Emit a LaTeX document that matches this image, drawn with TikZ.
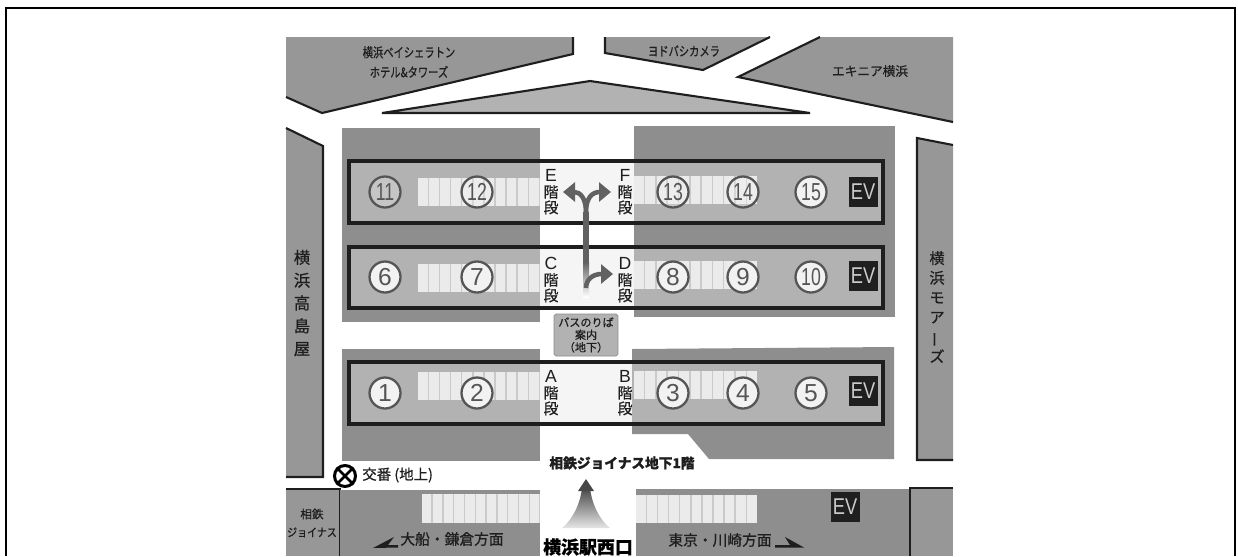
\documentclass[tikz,border=0pt]{standalone}
\usepackage{fontspec}
\setmainfont{Liberation Sans}
\newfontfamily\cjk[FakeBold=0.7]{Noto Sans CJK JP}
\newcommand{\ltr}[1]{{\normalfont\fontsize{10}{8.9}\selectfont #1}}
\usetikzlibrary{arrows.meta}
\definecolor{build}{HTML}{979797}
\definecolor{darkzone}{HTML}{8E8E8E}
\definecolor{band}{HTML}{B2B2B2}
\definecolor{strip}{HTML}{EBEBEB}
\definecolor{gap}{HTML}{CACACA}
\definecolor{ringcol}{HTML}{555555}
\definecolor{inkcol}{HTML}{1E1E1E}
\tikzset{
    edge/.style={draw=inkcol, line width=1.2pt},
    label/.style={font=\cjk\fontsize{8}{9}\selectfont, text=inkcol, inner sep=0pt},
    small/.style={font=\cjk\fontsize{7.5}{11.3}\selectfont, text=inkcol, inner sep=0pt, align=center},
    stair/.style={font=\cjk\fontsize{8.5}{8.9}\selectfont, text=inkcol, inner sep=0pt, align=center},
    tall/.style={font=\cjk\fontsize{#1}{#1}\selectfont, text=inkcol, inner sep=0pt, align=center},
    ring/.style={circle, draw=ringcol, line width=1.3pt, minimum size=.62cm, inner sep=0pt, fill=black!5, text=ringcol, font=\fontsize{14}{14}\selectfont},
    faint/.style={ring, fill opacity=.3, text opacity=1},
    evbox/.style={fill=black!88, text=white!80!black, minimum width=.58cm, minimum height=.6cm, inner sep=0pt, font=\fontsize{13}{13}\selectfont},
    walk/.style={draw=black!62, line width=2.6pt, -{Triangle[width=.38cm,length=.24cm]}},
}
\begin{document}
\begin{tikzpicture}[x=.02cm, y=-.02cm]
    \useasboundingbox (0,0) rectangle (1238,556);
    \draw[line width=1.3pt](6,556)--(6,8)--(1235,8)--(1235,556);
    % buildings
    \fill[build](286,37)--(573,37)--(573,54)--(322,113)--(286,97)--cycle;
    \draw[edge](573,37)--(573,54)--(322,113)--(286,97);
    \fill[build](605,37)--(770,37)--(703,70)--(605,53)--cycle;
    \draw[edge](605,37)--(605,53)--(703,70)--(770,37);
    \fill[build](820,37)--(953,37)--(953,122)--(738,77)--cycle;
    \draw[edge](820,37)--(738,77)--(953,122);
    \draw[edge, fill=band](382,113)--(590,81)--(810,113)--cycle;
    \fill[build](286,128)--(323,146)--(323,477)--(286,477)--cycle;
    \draw[edge](286,128)--(323,146)--(323,477)--(286,477);
    \fill[build](953,145)--(917,138)--(917,460)--(953,460)--cycle;
    \draw[edge](953,145)--(917,138)--(917,460)--(953,460);
    \fill[build](286,489)--(340,489)--(340,556)--(286,556)--cycle;
    \draw[edge](286,489)--(340,489)--(340,556);
    \fill[darkzone](340,490) rectangle (540,556);
    \fill[darkzone](636,489) rectangle (910,556);
    \fill[build](910,489) rectangle (953,556);
    \draw[edge](953,488)--(910,488)--(910,556);
    % platforms
    \fill[darkzone](342,128) rectangle (540,322);
    \fill[darkzone](634,126) rectangle (895,317);
    \fill[darkzone](342,349) rectangle (540,461);
    \fill[darkzone](632,349)--(894,347)--(894,459)--(709,459)--(688,434)--(632,434)--cycle;
    \foreach \ya/\yb/\xr in {161/223/634, 247/308/634, 362/424/632}{
        \fill[black!4](540,\ya) rectangle (\xr,\yb);
        \fill[band](349,\ya) rectangle (540,\yb);
        \fill[band](\xr,\ya) rectangle (883,\yb);
    }
    % ticket gates
    \foreach \yl/\yr in {178/176, 264/261, 372/371}{
        \fill[gap](418,\yl) rectangle (540,\yl+28);
        \fill[gap](634,\yr) rectangle (757,\yr+28);
        \foreach \i in {0,...,10}{
            \fill[strip]({418+\i*11.1},\yl) rectangle +(9.6,28);
            \fill[strip]({634+\i*11.3},\yr) rectangle +(9.8,28);
        }
    }
    \fill[gap](422,494) rectangle (540,523);
    \fill[gap](636,495) rectangle (757,523);
    \foreach \i in {0,...,10}{
        \fill[strip]({422+\i*10.8},494) rectangle +(9.3,29);
        \fill[strip]({636+\i*11.1},495) rectangle +(9.6,28);
    }
    \foreach \ya/\yb in {161/223, 247/308, 362/424}{
        \draw[inkcol, line width=1.8pt](349,\ya) rectangle (883,\yb);
    }
    % exits
    \foreach \name/\x/\y/\txt in {one/385/393/1, two/477/393/2, three/673/393/3, four/743/393/4, five/811/393/5,
        six/385/277/6, seven/477/277/7, eight/673/277/8, nine/743/277/9}{
        \node[ring] (\name) at (\x,\y) {\txt};
    }
    \foreach \name/\x/\y/\txt in {ten/811/277/10, fifteen/811/192/15}{
        \node[ring] (\name) at (\x,\y) {\scalebox{.72}[1]{\txt}};
    }
    \foreach \name/\x/\txt in {eleven/385/11, twelve/477/12, thirteen/673/13, fourteen/743/14}{
        \node[faint] (\name) at (\x,192) {\scalebox{.72}[1]{\txt}};
    }
    \foreach \name/\x/\y in {evF/863/192, evD/863/276, evB/863/391, evG/845/507}{
        \node[evbox] (\name) at (\x,\y) {\scalebox{.8}[1]{EV}};
    }
    % stairs
    \node[stair] (stairE) at (551,192) {\ltr{E}\\階\\段};
    \node[stair] (stairF) at (625,192) {\ltr{F}\\階\\段};
    \node[stair] (stairC) at (551,280) {\ltr{C}\\階\\段};
    \node[stair] (stairD) at (625,280) {\ltr{D}\\階\\段};
    \node[stair] (stairA) at (551,393) {\ltr{A}\\階\\段};
    \node[stair] (stairB) at (625,393) {\ltr{B}\\階\\段};
    % walkway
    \coordinate (forkup) at (586,212);
    \coordinate (forkmid) at (586,288);
    \coordinate (tipE) at (563,192);
    \coordinate (tipF) at (611,192);
    \coordinate (tipD) at (613,274);
    \shade[top color=black!62, bottom color=white](583,262) rectangle (589,297);
    \draw[draw=black!62, line width=3.4pt](forkup)--(586,263);
    \draw[walk](forkup) .. controls (586,198) and (580,192) .. (tipE);
    \draw[walk](forkup) .. controls (586,198) and (592,192) .. (tipF);
    \draw[walk](forkmid) .. controls (586,280) and (592,274) .. (tipD);
    \node[draw=black!45, fill=band, rounded corners=1pt, minimum width=1.28cm, minimum height=.84cm, inner sep=0pt, align=center, font=\cjk\fontsize{6.3}{7.1}\selectfont, text=inkcol] (busguide) at (586,335) {バスのりば\\案内\\（地下）};
    % entrance
    \shade[top color=black!72, bottom color=black!10](582,488) .. controls (580,505) and (572,520) .. (562,528)--(610,528) .. controls (600,520) and (592,505) .. (590,488)--cycle;
    \fill[black!72](586,479)--(594,491)--(578,491)--cycle;
    \node[label, font=\cjk\bfseries\fontsize{7.8}{9}\selectfont] (joinusfloor) at (622,463) {相鉄ジョイナス地下1階};
    \node[label, font=\cjk\bfseries\fontsize{10.2}{12}\selectfont, text=black] (westexit) at (588,547) {横浜駅西口};
    % labels
    \node[circle, draw=black, line width=1.7pt, minimum size=.42cm, inner sep=0pt] (koban) at (345,476) {};
    \draw[line width=1.5pt](koban.45)--(koban.225);
    \draw[line width=1.5pt](koban.135)--(koban.315);
    \node[label, anchor=west, font=\cjk\fontsize{8.2}{9}\selectfont] (kobantxt) at (362,475) {交番 (地上)};
    \node[small] (sheraton) at (409,62) {\scalebox{.78}[1]{横浜ベイシェラトン}\\\scalebox{.78}[1]{ホテル\&タワーズ}};
    \node[label, font=\cjk\fontsize{7.4}{8}\selectfont] (yodobashi) at (684,51) {\scalebox{.79}[1]{ヨドバシカメラ}};
    \node[label, font=\cjk\fontsize{7.2}{8}\selectfont] (ekinia) at (870,71) {エキニア横浜};
    \node[tall=9.3, execute at begin node={\baselineskip=13pt}] (takashimaya) at (302,303) {横\\浜\\高\\島\\屋};
    \node[tall=8.6, execute at begin node={\baselineskip=11.2pt}] (mores) at (937,307) {横\\浜\\モ\\ア\\\rotatebox[origin=c]{90}{ー}\\ズ};
    \node[small, font=\cjk\fontsize{6.6}{10.4}\selectfont] (joinus) at (312,523) {相鉄\\\scalebox{.86}[1]{ジョイナス}};
    \node[label, font=\cjk\fontsize{8.4}{10}\selectfont] (ofuna) at (452,539) {大船・鎌倉方面};
    \node[label, font=\cjk\fontsize{8.4}{10}\selectfont] (tokyo) at (720,540) {東京・川崎方面};
    \fill[inkcol](373,548)--(394,537)--(388,545)--(398,545)--(398,547.5)--cycle;
    \fill[inkcol](775,545)--(790,545)--(785,537)--(804,547.5)--(775,547.5)--cycle;
\end{tikzpicture}
\end{document}
